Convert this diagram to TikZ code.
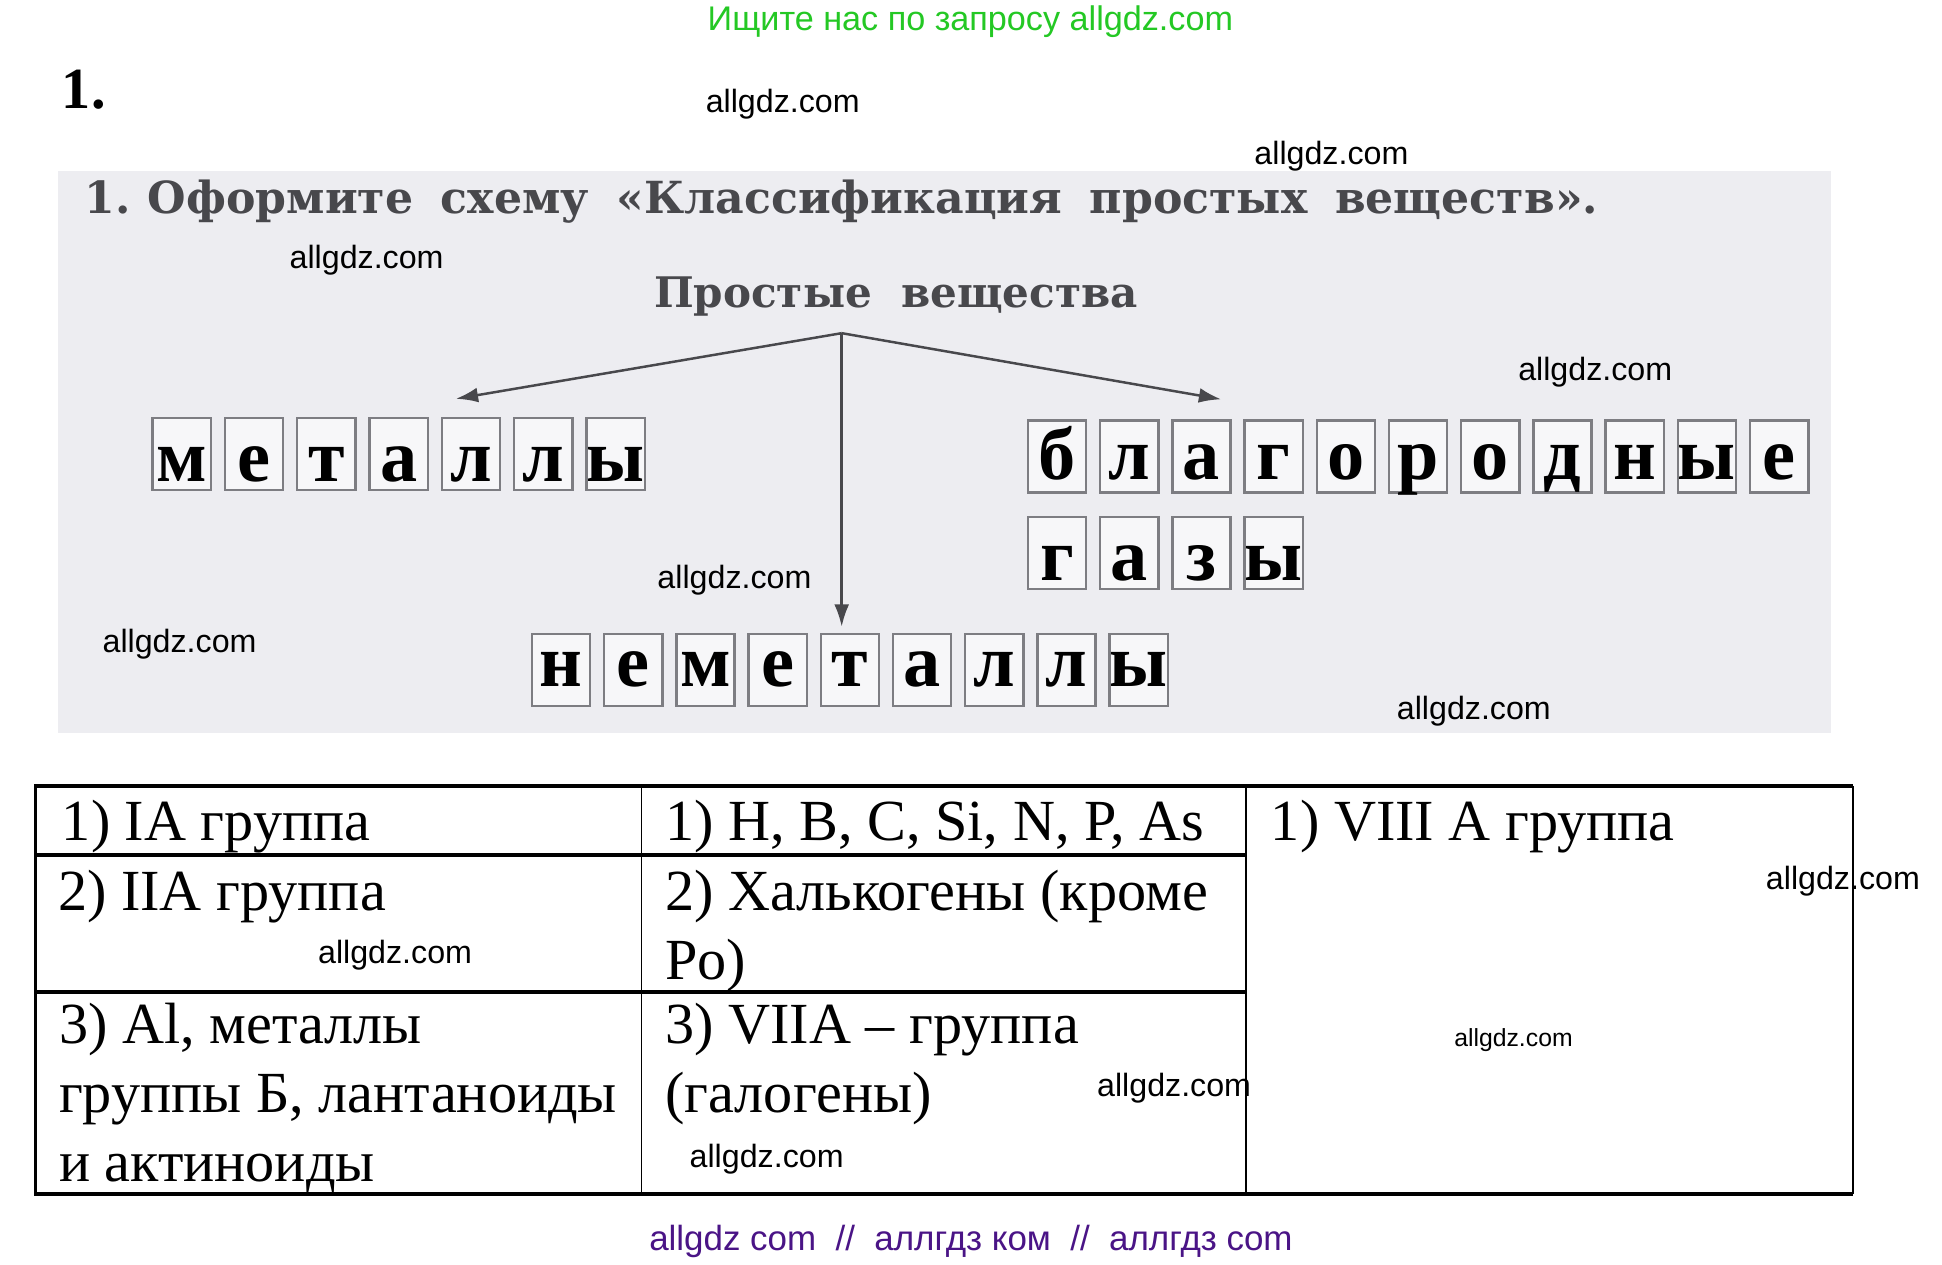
\documentclass[tikz,border=0pt]{standalone}
\usepackage{fontspec}
\setmainfont{Liberation Serif}
\newfontfamily\bookfont{DejaVu Serif}
\newfontfamily\wmfont{Liberation Sans}
\usetikzlibrary{arrows.meta}

\definecolor{scanbg}{RGB}{237,237,241}
\definecolor{boxgray}{RGB}{125,125,130}
\definecolor{inkgray}{RGB}{72,72,76}
\definecolor{wmgreen}{RGB}{36,200,36}
\definecolor{wmpurple}{RGB}{74,20,134}

\begin{document}
\begin{tikzpicture}[x=1pt, y=-1pt,
    wmark/.style={font=\wmfont\fontsize{26}{30}\selectfont, inner sep=0pt, anchor=base},
    celltext/.style={font=\fontsize{47}{56}\selectfont, inner sep=0pt, anchor=base west},
    letterbox/.style={draw=boxgray, line width=2pt, fill=white!55!scanbg,
        minimum width=47pt, minimum height=58pt, inner sep=0pt,
        font=\bfseries\fontsize{60}{62}\selectfont},
    scheme/.style={draw=inkgray, line width=2pt, -{Latex[length=18pt,width=12pt]}}]

    % Page and scanned part
    \useasboundingbox (0,0) rectangle (1568,1021);
    \fill[white] (0,0) rectangle (1568,1021);
    \fill[scanbg] (47,138) rectangle (1478,592);

    % Headings
    \node[font=\wmfont\fontsize{27.6}{32}\selectfont, text=wmgreen, inner sep=0pt, anchor=base]
        (search) at (783.5,25) {Ищите нас по запросу allgdz.com};
    \node[font=\bfseries\fontsize{47}{50}\selectfont, inner sep=0pt, anchor=base west]
        (num) at (49.8,87.2) {1.};
    \node[font=\bookfont\bfseries\fontsize{35.7}{40}\selectfont, text=inkgray, inner sep=0pt, anchor=base west]
        (task) at (68,172) {\makebox[1222pt][s]{1.\hspace{14pt}Оформите схему «Классификация простых веществ».}};
    \node[font=\bookfont\bfseries\fontsize{34}{40}\selectfont, text=inkgray, inner sep=0pt, anchor=base]
        (simple) at (723.5,248) {Простые\ \ вещества};

    % Draw arrows of the scheme
    \coordinate (fork) at (679.6,269);
    \coordinate (tipMet) at (368,322);
    \coordinate (tipGas) at (986,322.4);
    \coordinate (tipNon) at (679.6,506);
    \draw[scheme] (fork) -- (tipMet);
    \draw[scheme] (fork) -- (tipGas);
    \draw[scheme] (fork) -- (tipNon);

    % Draw letter boxes
    \foreach \ch [count=\i] in {м,е,т,а,л,л,ы}
        \node[letterbox, text height=51pt, text depth=7pt] (met\i) at ({146.7+58.4*(\i-1)},366.5) {\makebox[0pt]{\ch}};
    \foreach \ch [count=\i] in {б,л,а,г,о,р,о,д,н,ы,е}
        \node[letterbox, text height=48pt, text depth=10pt] (blag\i) at ({853.5+58.3*(\i-1)},368.5) {\makebox[0pt]{\ch}};
    \foreach \ch [count=\i] in {г,а,з,ы}
        \node[letterbox, text height=51pt, text depth=7pt] (gas\i) at ({853.5+58.3*(\i-1)},446.5) {\makebox[0pt]{\ch}};
    \foreach \ch [count=\i] in {н,е,м,е,т,а,л,л,ы}
        \node[letterbox, text height=42pt, text depth=16pt] (non\i) at ({453+58.3*(\i-1)},541) {\makebox[0pt]{\ch}};

    % Draw table
    \draw[line width=2.5pt] (1496,634.6) -- (28.3,634.6) -- (28.3,964) -- (1496,964);
    \draw[line width=1.5pt] (1496,634.6) -- (1496,964);
    \draw[line width=3pt] (28.3,690.4) -- (1006,690.4);
    \draw[line width=3pt] (28.3,800.7) -- (1006,800.7);
    \draw[line width=1.3pt] (518,634.6) -- (518,964);
    \draw[line width=1.3pt] (1006,634.6) -- (1006,964);

    % Table texts
    \node[celltext] (m1) at (49.8,679) {1) IA группа};
    \node[celltext] (m2) at (46.7,734.8) {2) IIA группа};
    \node[celltext] (m3a) at (47.5,842.7) {3) Al, металлы};
    \node[celltext] (m3b) at (47.5,898.4) {группы Б, лантаноиды};
    \node[celltext] (m3c) at (47.5,954.1) {и актиноиды};
    \node[celltext] (n1) at (537,679) {1) H, B, C, Si, N, P, As};
    \node[celltext] (n2a) at (537,734.8) {2) Халькогены (кроме};
    \node[celltext] (n2b) at (537,790.5) {Po)};
    \node[celltext] (n3a) at (537,842.7) {3) VIIA – группа};
    \node[celltext] (n3b) at (537,898.4) {(галогены)};
    \node[celltext] (g1) at (1026,679) {1) VIII A группа};

    % Watermarks
    \node[wmark] (wm1) at (632,91) {allgdz.com};
    \node[wmark] (wm2) at (1075,133) {allgdz.com};
    \node[wmark] (wm3) at (296,217) {allgdz.com};
    \node[wmark] (wm4) at (1288,307) {allgdz.com};
    \node[wmark] (wm5) at (593,475) {allgdz.com};
    \node[wmark] (wm6) at (145,527) {allgdz.com};
    \node[wmark] (wm7) at (1190,581) {allgdz.com};
    \node[wmark] (wm8) at (1488,718) {allgdz.com};
    \node[wmark] (wm9) at (319,777.6) {allgdz.com};
    \node[wmark, font=\wmfont\fontsize{20}{24}\selectfont] (wm10) at (1222,845) {allgdz.com};
    \node[wmark] (wm11) at (948,885) {allgdz.com};
    \node[wmark] (wm12) at (619,943) {allgdz.com};
    \node[font=\wmfont\fontsize{28.2}{32}\selectfont, text=wmpurple, inner sep=0pt, anchor=base]
        (footer) at (784,1010) {allgdz com\ \ //\ \ аллгдз ком\ \ //\ \ аллгдз com};
\end{tikzpicture}
\end{document}
